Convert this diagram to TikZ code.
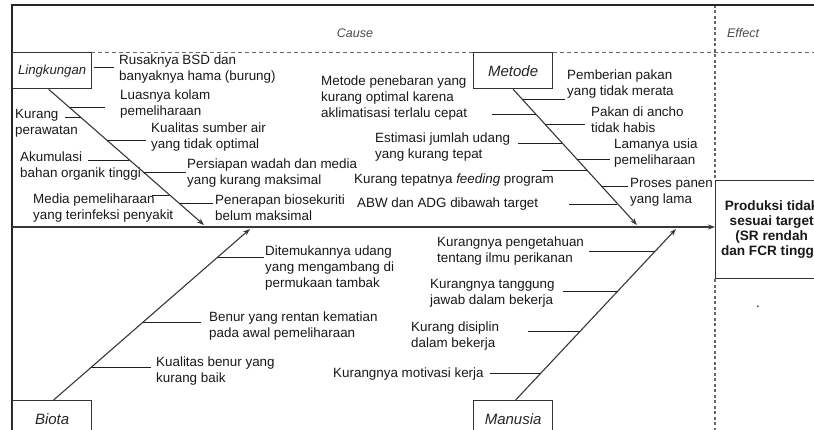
\documentclass[tikz,border=0pt]{standalone}
\usepackage{fontspec}
\setmainfont{Liberation Sans}
\usetikzlibrary{arrows.meta,calc}
\begin{document}
\begin{tikzpicture}[x=1pt,y=-1pt,
  txt/.style={anchor=west,align=left,inner sep=0pt,font=\fontsize{13.4}{16}\selectfont,text=black!90},
  catbox/.style={draw=black!80,line width=1.3pt,fill=white,minimum width=79pt,minimum height=36pt,anchor=north west,inner sep=0pt,font=\fontsize{15}{18}\selectfont\itshape,text=black!85},
  spine/.style={draw=black!78,line width=1.1pt,-{Stealth[length=7pt,width=5pt]}},
  rib/.style={draw=black!88,line width=0.9pt},
  hdash/.style={draw=black!60,line width=0.9pt,dash pattern=on 4pt off 3pt},
  vdash/.style={draw=black!60,line width=1.8pt,dash pattern=on 3pt off 2.5pt},
  hdr/.style={font=\fontsize{12.5}{15}\selectfont\itshape,text=black!70,inner sep=0pt},
]
\useasboundingbox (0,0) rectangle (814,430);
\clip (0,0) rectangle (814,430);
\fill[white] (0,0) rectangle (814,430);

% header labels
\node[hdr] (cause) at (355,33) {Cause};
\node[hdr] (effect) at (743,33) {Effect};

% dashed separators
\draw[hdash] (91,52) -- (820,52);

% effect box
\node[draw=black!80,line width=1.3pt,fill=white,anchor=north west,minimum width=112pt,minimum height=98pt,inner sep=0pt,align=center,font=\fontsize{13.6}{15}\selectfont\bfseries,text=black!90] (eff) at (715,180) {Produksi tidak\\sesuai target\\(SR rendah\\dan FCR tinggi)};
\draw[vdash] (715,5) -- (eff.north west);
\draw[vdash] (eff.south west) -- (715,434);

% outer frame
\draw[black!85,line width=2pt] (12,434) -- (12,5) -- (820,5);

% category boxes
\node[catbox,font=\fontsize{13.2}{16}\selectfont\itshape] (lk) at (12,52) {Lingkungan};
\node[catbox] (me) at (473,52) {Metode};
\node[catbox] (bi) at (12,400) {Biota};
\node[catbox] (ma) at (473,400) {Manusia};

% main spine
\coordinate (mainstart) at (12,227);
\draw[spine] (mainstart) -- (mainstart -| eff.west);

% category spines
\coordinate (lkend) at (204,225);
\coordinate (meend) at (637,225);
\coordinate (biend) at (250,229);
\coordinate (maend) at (676,229);
\draw[spine] ([xshift=-3.5pt]lk.south) -- (lkend);
\draw[spine] (me.south) -- (meend);
\draw[spine] ([xshift=1.5pt]bi.north) -- (biend);
\draw[spine] ([xshift=2.5pt]ma.north) -- (maend);

% texts: Lingkungan
\node[txt] (t1) at (119,69.5) {Rusaknya BSD dan\\banyaknya hama (burung)};
\node[txt] (t2) at (120,104) {Luasnya kolam\\pemeliharaan};
\node[txt] (t3) at (15,123) {Kurang\\perawatan};
\node[txt] (t4) at (151,137.5) {Kualitas sumber air\\yang tidak optimal};
\node[txt] (t5) at (20,166) {Akumulasi\\bahan organik tinggi};
\node[txt] (t6) at (187,173.5) {Persiapan wadah dan media\\yang kurang maksimal};
\node[txt] (t7) at (33,208) {Media pemeliharaan\\yang terinfeksi penyakit};
\node[txt] (t8) at (215,207.5) {Penerapan biosekuriti\\belum maksimal};
% texts: Metode
\node[txt] (t9) at (321,98.5) {Metode penebaran yang\\kurang optimal karena\\aklimatisasi terlalu cepat};
\node[txt] (t10) at (567,84) {Pemberian pakan\\yang tidak merata};
\node[txt] (t11) at (591,120) {Pakan di ancho\\tidak habis};
\node[txt] (t12) at (375,147) {Estimasi jumlah udang\\yang kurang tepat};
\node[txt] (t13) at (614,153.5) {Lamanya usia\\pemeliharaan};
\node[txt] (t14) at (354,180) {Kurang tepatnya \textit{feeding} program};
\node[txt] (t15) at (630,192) {Proses panen\\yang lama};
\node[txt] (t16) at (357,204) {ABW dan ADG dibawah target};
% texts: Biota
\node[txt] (t17) at (265,268) {Ditemukannya udang\\yang mengambang di\\permukaan tambak};
\node[txt] (t18) at (209,326) {Benur yang rentan kematian\\pada awal pemeliharaan};
\node[txt] (t19) at (156,371) {Kualitas benur yang\\kurang baik};
% texts: Manusia
\node[txt] (t20) at (437,251) {Kurangnya pengetahuan\\tentang ilmu perikanan};
\node[txt] (t21) at (430,293.5) {Kurangnya tanggung\\jawab dalam bekerja};
\node[txt] (t22) at (411,336) {Kurang disiplin\\dalam bekerja};
\node[txt] (t23) at (333,374) {Kurangnya motivasi kerja};

% dot in effect column
\node[inner sep=0pt,font=\fontsize{13.4}{16}\selectfont] (dot) at (758,307) {.};

% rib coordinates (spine side s, text side r)
\coordinate (r1a) at (94,67);   \coordinate (r1b) at (114,67);
\coordinate (s2) at (69.5,107); \coordinate (r2) at (105,107);
\coordinate (s3) at (80.8,117); \coordinate (r3) at (65,117);
\coordinate (s4) at (106.8,140);\coordinate (r4) at (146,140);
\coordinate (s5) at (129.4,160);\coordinate (r5) at (88,160);
\coordinate (s6) at (143,172);  \coordinate (r6) at (186,172);
\coordinate (s7) at (169,195);  \coordinate (r7) at (152,195);
\coordinate (s8) at (180,203);  \coordinate (r8) at (213,203);
\coordinate (s9) at (536.4,114);\coordinate (r9) at (492,114);
\coordinate (s10) at (522.9,99);\coordinate (r10) at (565,99);
\coordinate (s11) at (545.3,124);\coordinate (r11) at (585,124);
\coordinate (s12) at (562.4,143);\coordinate (r12) at (518,143);
\coordinate (s13) at (576.8,159);\coordinate (r13) at (610,159);
\coordinate (s14) at (586.7,170);\coordinate (r14) at (542,170);
\coordinate (s15) at (601.1,186);\coordinate (r15) at (628,186);
\coordinate (s16) at (617.2,204);\coordinate (r16) at (569,204);
\coordinate (s17) at (217.7,257);\coordinate (r17) at (264,257);
\coordinate (s18) at (142.9,322);\coordinate (r18) at (201,322);
\coordinate (s19) at (91,367);  \coordinate (r19) at (151,367);
\coordinate (s20) at (655.3,251);\coordinate (r20) at (589,251);
\coordinate (s21) at (617.6,291);\coordinate (r21) at (563,291);
\coordinate (s22) at (580,331);  \coordinate (r22) at (528,331);
\coordinate (s23) at (540.4,373);\coordinate (r23) at (490,373);

\draw[rib] (r1a) -- (r1b);
\foreach \i in {2,...,23} { \draw[rib] (s\i) -- (r\i); }
\end{tikzpicture}
\end{document}
